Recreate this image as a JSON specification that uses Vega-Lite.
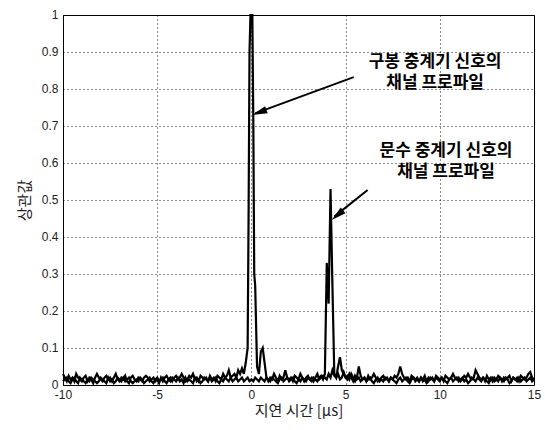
{
  "$schema": "https://vega.github.io/schema/vega-lite/v6.json",
  "width": 471,
  "height": 370,
  "autosize": {"type": "none"},
  "padding": {"left": 63, "top": 15, "right": 11, "bottom": 45},
  "background": "white",
  "config": {
    "view": {"stroke": "black", "strokeWidth": 1},
    "axis": {
      "grid": true, "gridColor": "black", "gridDash": [1, 3], "gridWidth": 1, "gridOpacity": 0.9,
      "domain": false, "ticks": false,
      "labelFont": "Liberation Sans", "labelFontSize": 12, "labelColor": "#222",
      "labelFlush": false, "labelOverlap": false,
      "titleFont": "Noto Sans CJK KR", "titleFontSize": 15, "titleFontWeight": "normal", "titleColor": "#222"
    }
  },
  "datasets": {
    "curves": [
      {"x":-10,"a":0.03,"b":0.01},{"x":-9.9,"a":0.02,"b":0.015},{"x":-9.8,"a":0.01,"b":0.02},{"x":-9.7,"a":0.025,"b":0.01},{"x":-9.6,"a":0.015,"b":0.005},{"x":-9.5,"a":0.02,"b":0.015},{"x":-9.4,"a":0.01,"b":0.02},{"x":-9.3,"a":0.03,"b":0.01},{"x":-9.2,"a":0.02,"b":0.005},{"x":-9.1,"a":0.015,"b":0.02},
      {"x":-9,"a":0.01,"b":0.015},{"x":-8.9,"a":0.02,"b":0.01},{"x":-8.8,"a":0.025,"b":0.005},{"x":-8.7,"a":0.01,"b":0.015},{"x":-8.6,"a":0.02,"b":0.01},{"x":-8.5,"a":0.015,"b":0.02},{"x":-8.4,"a":0.005,"b":0.015},{"x":-8.3,"a":0.02,"b":0.01},{"x":-8.2,"a":0.03,"b":0.005},{"x":-8.1,"a":0.02,"b":0.01},
      {"x":-8,"a":0.015,"b":0.02},{"x":-7.9,"a":0.01,"b":0.015},{"x":-7.8,"a":0.02,"b":0.01},{"x":-7.7,"a":0.025,"b":0.005},{"x":-7.6,"a":0.015,"b":0.02},{"x":-7.5,"a":0.02,"b":0.01},{"x":-7.4,"a":0.01,"b":0.015},{"x":-7.3,"a":0.02,"b":0.005},{"x":-7.2,"a":0.03,"b":0.01},{"x":-7.1,"a":0.015,"b":0.02},
      {"x":-7,"a":0.01,"b":0.015},{"x":-6.9,"a":0.02,"b":0.01},{"x":-6.8,"a":0.015,"b":0.02},{"x":-6.7,"a":0.025,"b":0.01},{"x":-6.6,"a":0.01,"b":0.015},{"x":-6.5,"a":0.005,"b":0.02},{"x":-6.4,"a":0.02,"b":0.01},{"x":-6.3,"a":0.025,"b":0.005},{"x":-6.2,"a":0.015,"b":0.01},{"x":-6.1,"a":0.01,"b":0.015},
      {"x":-6,"a":0.02,"b":0.01},{"x":-5.9,"a":0.015,"b":0.02},{"x":-5.8,"a":0.01,"b":0.015},{"x":-5.7,"a":0.02,"b":0.005},{"x":-5.6,"a":0.025,"b":0.01},{"x":-5.5,"a":0.02,"b":0.015},{"x":-5.4,"a":0.01,"b":0.02},{"x":-5.3,"a":0.015,"b":0.01},{"x":-5.2,"a":0.02,"b":0.005},{"x":-5.1,"a":0.01,"b":0.015},
      {"x":-5,"a":0.015,"b":0.02},{"x":-4.9,"a":0.005,"b":0.01},{"x":-4.8,"a":0.02,"b":0.015},{"x":-4.7,"a":0.01,"b":0.02},{"x":-4.6,"a":0.02,"b":0.01},{"x":-4.5,"a":0.025,"b":0.005},{"x":-4.4,"a":0.015,"b":0.015},{"x":-4.3,"a":0.02,"b":0.01},{"x":-4.2,"a":0.01,"b":0.02},{"x":-4.1,"a":0.02,"b":0.015},
      {"x":-4,"a":0.025,"b":0.01},{"x":-3.9,"a":0.015,"b":0.02},{"x":-3.8,"a":0.02,"b":0.01},{"x":-3.7,"a":0.03,"b":0.015},{"x":-3.6,"a":0.02,"b":0.005},{"x":-3.5,"a":0.01,"b":0.02},{"x":-3.4,"a":0.015,"b":0.01},{"x":-3.3,"a":0.025,"b":0.015},{"x":-3.2,"a":0.02,"b":0.01},{"x":-3.1,"a":0.03,"b":0.005},
      {"x":-3,"a":0.015,"b":0.02},{"x":-2.9,"a":0.02,"b":0.01},{"x":-2.8,"a":0.01,"b":0.015},{"x":-2.7,"a":0.025,"b":0.005},{"x":-2.6,"a":0.02,"b":0.01},{"x":-2.5,"a":0.015,"b":0.02},{"x":-2.4,"a":0.02,"b":0.015},{"x":-2.3,"a":0.01,"b":0.01},{"x":-2.2,"a":0.025,"b":0.02},{"x":-2.1,"a":0.015,"b":0.01},
      {"x":-2,"a":0.02,"b":0.015},{"x":-1.9,"a":0.01,"b":0.02},{"x":-1.8,"a":0.025,"b":0.01},{"x":-1.7,"a":0.02,"b":0.005},{"x":-1.6,"a":0.015,"b":0.015},{"x":-1.5,"a":0.03,"b":0.01},{"x":-1.4,"a":0.02,"b":0.02},{"x":-1.3,"a":0.025,"b":0.015},{"x":-1.2,"a":0.04,"b":0.01},{"x":-1.1,"a":0.02,"b":0.02},
      {"x":-1,"a":0.025,"b":0.01},{"x":-0.9,"a":0.03,"b":0.015},{"x":-0.8,"a":0.02,"b":0.02},{"x":-0.7,"a":0.04,"b":0.01},{"x":-0.6,"a":0.03,"b":0.015},{"x":-0.5,"a":0.045,"b":0.02},{"x":-0.4,"a":0.03,"b":0.01},{"x":-0.3,"a":0.06,"b":0.015},{"x":-0.2,"a":0.1,"b":0.02},{"x":-0.15,"a":0.45,"b":0.015},{"x":-0.1,"a":0.9,"b":0.01},{"x":-0.05,"a":1,"b":0.012},
      {"x":0,"a":1,"b":0.015},{"x":0.05,"a":1,"b":0.012},{"x":0.1,"a":0.72,"b":0.01},{"x":0.15,"a":0.3,"b":0.015},{"x":0.2,"a":0.27,"b":0.02},{"x":0.3,"a":0.05,"b":0.015},{"x":0.4,"a":0.03,"b":0.01},{"x":0.5,"a":0.09,"b":0.02},{"x":0.6,"a":0.1,"b":0.015},{"x":0.7,"a":0.06,"b":0.01},{"x":0.8,"a":0.02,"b":0.02},{"x":0.9,"a":0.01,"b":0.015},
      {"x":1,"a":0.02,"b":0.01},{"x":1.1,"a":0.015,"b":0.02},{"x":1.2,"a":0.03,"b":0.015},{"x":1.3,"a":0.02,"b":0.01},{"x":1.4,"a":0.01,"b":0.005},{"x":1.5,"a":0.025,"b":0.015},{"x":1.6,"a":0.015,"b":0.02},{"x":1.7,"a":0.02,"b":0.01},{"x":1.8,"a":0.04,"b":0.015},{"x":1.9,"a":0.02,"b":0.02},
      {"x":2,"a":0.015,"b":0.01},{"x":2.1,"a":0.02,"b":0.015},{"x":2.2,"a":0.01,"b":0.02},{"x":2.3,"a":0.025,"b":0.01},{"x":2.4,"a":0.02,"b":0.005},{"x":2.5,"a":0.015,"b":0.015},{"x":2.6,"a":0.03,"b":0.01},{"x":2.7,"a":0.02,"b":0.02},{"x":2.8,"a":0.01,"b":0.015},{"x":2.9,"a":0.02,"b":0.01},
      {"x":3,"a":0.025,"b":0.02},{"x":3.1,"a":0.015,"b":0.015},{"x":3.2,"a":0.02,"b":0.01},{"x":3.3,"a":0.01,"b":0.02},{"x":3.4,"a":0.02,"b":0.015},{"x":3.5,"a":0.03,"b":0.01},{"x":3.6,"a":0.015,"b":0.02},{"x":3.7,"a":0.02,"b":0.025},{"x":3.8,"a":0.025,"b":0.015},{"x":3.9,"a":0.02,"b":0.03},
      {"x":4,"a":0.015,"b":0.33},{"x":4.1,"a":0.03,"b":0.22},{"x":4.2,"a":0.02,"b":0.53},{"x":4.3,"a":0.04,"b":0.27},{"x":4.4,"a":0.025,"b":0.03},{"x":4.5,"a":0.02,"b":0.02},{"x":4.6,"a":0.03,"b":0.05},{"x":4.7,"a":0.015,"b":0.075},{"x":4.8,"a":0.02,"b":0.04},{"x":4.9,"a":0.035,"b":0.03},
      {"x":5,"a":0.02,"b":0.02},{"x":5.1,"a":0.025,"b":0.015},{"x":5.2,"a":0.015,"b":0.03},{"x":5.3,"a":0.03,"b":0.02},{"x":5.4,"a":0.02,"b":0.01},{"x":5.5,"a":0.01,"b":0.025},{"x":5.6,"a":0.02,"b":0.015},{"x":5.7,"a":0.05,"b":0.02},{"x":5.8,"a":0.025,"b":0.01},{"x":5.9,"a":0.015,"b":0.015},
      {"x":6,"a":0.02,"b":0.02},{"x":6.1,"a":0.01,"b":0.01},{"x":6.2,"a":0.025,"b":0.015},{"x":6.3,"a":0.015,"b":0.02},{"x":6.4,"a":0.02,"b":0.01},{"x":6.5,"a":0.03,"b":0.005},{"x":6.6,"a":0.02,"b":0.015},{"x":6.7,"a":0.01,"b":0.02},{"x":6.8,"a":0.015,"b":0.01},{"x":6.9,"a":0.02,"b":0.015},
      {"x":7,"a":0.025,"b":0.01},{"x":7.1,"a":0.015,"b":0.02},{"x":7.2,"a":0.02,"b":0.015},{"x":7.3,"a":0.01,"b":0.01},{"x":7.4,"a":0.02,"b":0.02},{"x":7.5,"a":0.015,"b":0.015},{"x":7.6,"a":0.025,"b":0.01},{"x":7.7,"a":0.02,"b":0.005},{"x":7.8,"a":0.03,"b":0.015},{"x":7.9,"a":0.05,"b":0.02},
      {"x":8,"a":0.03,"b":0.01},{"x":8.1,"a":0.02,"b":0.015},{"x":8.2,"a":0.015,"b":0.02},{"x":8.3,"a":0.02,"b":0.01},{"x":8.4,"a":0.01,"b":0.005},{"x":8.5,"a":0.025,"b":0.015},{"x":8.6,"a":0.02,"b":0.02},{"x":8.7,"a":0.015,"b":0.01},{"x":8.8,"a":0.02,"b":0.015},{"x":8.9,"a":0.01,"b":0.01},
      {"x":9,"a":0.02,"b":0.02},{"x":9.1,"a":0.015,"b":0.01},{"x":9.2,"a":0.025,"b":0.015},{"x":9.3,"a":0.01,"b":0.005},{"x":9.4,"a":0.02,"b":0.01},{"x":9.5,"a":0.015,"b":0.02},{"x":9.6,"a":0.02,"b":0.015},{"x":9.7,"a":0.01,"b":0.01},{"x":9.8,"a":0.025,"b":0.02},{"x":9.9,"a":0.02,"b":0.015},
      {"x":10,"a":0.015,"b":0.01},{"x":10.1,"a":0.02,"b":0.02},{"x":10.2,"a":0.01,"b":0.015},{"x":10.3,"a":0.025,"b":0.01},{"x":10.4,"a":0.02,"b":0.005},{"x":10.5,"a":0.015,"b":0.015},{"x":10.6,"a":0.02,"b":0.02},{"x":10.7,"a":0.03,"b":0.01},{"x":10.8,"a":0.02,"b":0.015},{"x":10.9,"a":0.015,"b":0.02},
      {"x":11,"a":0.02,"b":0.01},{"x":11.1,"a":0.01,"b":0.015},{"x":11.2,"a":0.015,"b":0.02},{"x":11.3,"a":0.025,"b":0.01},{"x":11.4,"a":0.02,"b":0.015},{"x":11.5,"a":0.03,"b":0.005},{"x":11.6,"a":0.02,"b":0.01},{"x":11.7,"a":0.015,"b":0.02},{"x":11.8,"a":0.02,"b":0.015},{"x":11.9,"a":0.04,"b":0.01},
      {"x":12,"a":0.03,"b":0.02},{"x":12.1,"a":0.02,"b":0.015},{"x":12.2,"a":0.015,"b":0.01},{"x":12.3,"a":0.02,"b":0.02},{"x":12.4,"a":0.01,"b":0.015},{"x":12.5,"a":0.025,"b":0.01},{"x":12.6,"a":0.015,"b":0.005},{"x":12.7,"a":0.02,"b":0.015},{"x":12.8,"a":0.01,"b":0.02},{"x":12.9,"a":0.02,"b":0.01},
      {"x":13,"a":0.015,"b":0.015},{"x":13.1,"a":0.025,"b":0.01},{"x":13.2,"a":0.02,"b":0.02},{"x":13.3,"a":0.01,"b":0.015},{"x":13.4,"a":0.02,"b":0.01},{"x":13.5,"a":0.015,"b":0.02},{"x":13.6,"a":0.02,"b":0.015},{"x":13.7,"a":0.025,"b":0.005},{"x":13.8,"a":0.01,"b":0.01},{"x":13.9,"a":0.02,"b":0.02},
      {"x":14,"a":0.015,"b":0.015},{"x":14.1,"a":0.02,"b":0.01},{"x":14.2,"a":0.01,"b":0.02},{"x":14.3,"a":0.025,"b":0.01},{"x":14.4,"a":0.02,"b":0.015},{"x":14.5,"a":0.015,"b":0.02},{"x":14.6,"a":0.02,"b":0.01},{"x":14.7,"a":0.03,"b":0.015},{"x":14.8,"a":0.035,"b":0.02},{"x":14.9,"a":0.02,"b":0.01},
      {"x":15,"a":0.015,"b":0.015}
    ],
    "labels": [
      {"x": 9.75, "y": 0.872, "label": "구봉 중계기 신호의"},
      {"x": 9.75, "y": 0.817, "label": "채널 프로파일"},
      {"x": 10.33, "y": 0.632, "label": "문수 중계기 신호의"},
      {"x": 10.33, "y": 0.576, "label": "채널 프로파일"}
    ],
    "arrows": [
      {"x": 5.43, "y": 0.832, "arrow": "A"},
      {"x": 0.2, "y": 0.734, "arrow": "A"},
      {"x": 6.17, "y": 0.527, "arrow": "B"},
      {"x": 4.4, "y": 0.455, "arrow": "B"}
    ],
    "heads": [
      {"x": 0.05, "y": 0.73, "arrow": "A"},
      {"x": 4.26, "y": 0.446, "arrow": "B"}
    ]
  },
  "encoding": {
    "x": {
      "field": "x", "type": "quantitative",
      "scale": {"domain": [-10, 15], "nice": false, "zero": false},
      "axis": {
        "title": "지연 시간 [μs]",
        "values": [-10, -5, 0, 5, 10, 15],
        "labelExpr": "datum.value < 0 ? '-' + (-datum.value) : '' + datum.value",
        "labelPadding": 4, "titlePadding": 3
      }
    },
    "y": {
      "field": "y", "type": "quantitative",
      "scale": {"domain": [0, 1], "nice": false},
      "axis": {
        "title": "상관값",
        "values": [0, 0.1, 0.2, 0.3, 0.4, 0.5, 0.6, 0.7, 0.8, 0.9, 1],
        "format": ".1~f",
        "labelOffset": -1,
        "labelPadding": 5, "titlePadding": 9
      }
    }
  },
  "layer": [
    {
      "data": {"name": "curves"},
      "transform": [{"fold": ["a", "b"], "as": ["series", "y"]}],
      "mark": {"type": "line", "color": "black", "strokeWidth": 2.2, "strokeJoin": "miter"},
      "encoding": {"detail": {"field": "series"}}
    },
    {
      "data": {"name": "labels"},
      "mark": {"type": "text", "font": "Noto Sans CJK KR", "fontSize": 17, "fontWeight": "bold", "color": "black", "align": "center", "baseline": "middle"},
      "encoding": {"text": {"field": "label"}}
    },
    {
      "data": {"name": "arrows"},
      "mark": {"type": "line", "color": "black", "strokeWidth": 2},
      "encoding": {"detail": {"field": "arrow"}}
    },
    {
      "data": {"name": "heads"},
      "transform": [{"filter": "datum.arrow == 'A'"}],
      "mark": {"type": "point", "shape": "M0,0L-0.5,2L0.5,2Z", "filled": true, "color": "black", "opacity": 1, "size": 225, "angle": 249.6},
      "encoding": {}
    },
    {
      "data": {"name": "heads"},
      "transform": [{"filter": "datum.arrow == 'B'"}],
      "mark": {"type": "point", "shape": "M0,0L-0.5,2L0.5,2Z", "filled": true, "color": "black", "opacity": 1, "size": 225, "angle": 230},
      "encoding": {}
    }
  ]
}
